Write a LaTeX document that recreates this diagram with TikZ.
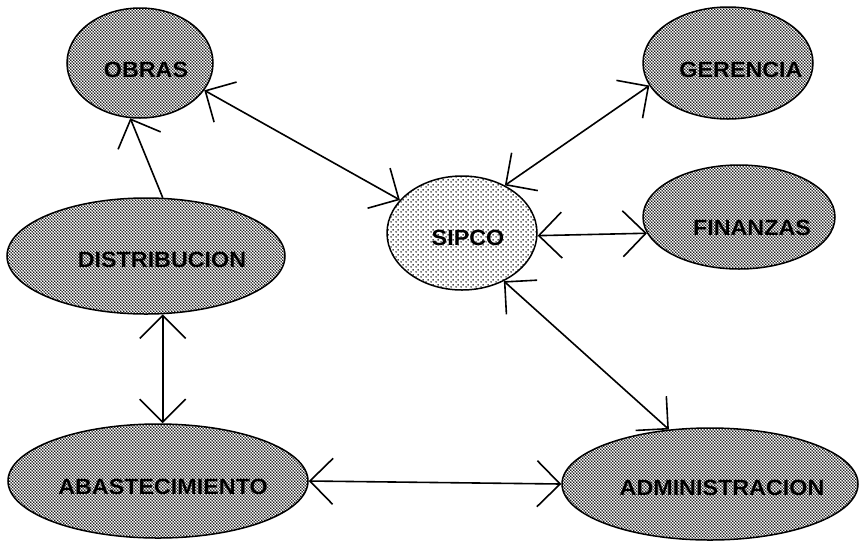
\documentclass[tikz,border=0pt]{standalone}
\usepackage{fontspec}
\setmainfont{Liberation Sans}
\newfontfamily\lblfont[FakeStretch=1.06]{Liberation Sans}
\usetikzlibrary{shapes.geometric,arrows.meta,patterns.meta}

% dense checkerboard of dots for the outer units
\tikzdeclarepattern{
  name=densedots,
  type=uncolored,
  bounding box={(0pt,0pt) and (3.4pt,3.4pt)},
  tile size={(3.4pt,3.4pt)},
  code={
    \fill (0.85pt,0.85pt) circle (1.0pt);
    \fill (2.55pt,2.55pt) circle (1.0pt);
  }
}
% lighter dot screen for the central system
\tikzdeclarepattern{
  name=lightdots,
  type=uncolored,
  bounding box={(0pt,0pt) and (5pt,5pt)},
  tile size={(5pt,5pt)},
  code={
    \fill (1.25pt,1.25pt) circle (0.95pt);
    \fill (3.75pt,3.75pt) circle (0.95pt);
  }
}

\tikzset{
  barb/.tip={Straight Barb[length=23pt,width=46pt,line width=1.6pt]},
  unit/.style={ellipse, draw=black, line width=1.5pt, inner sep=0pt,
               pattern=densedots, pattern color=black},
  core/.style={ellipse, draw=black, line width=1.5pt, inner sep=0pt,
               pattern=lightdots, pattern color=black},
  lbl/.style={font=\lblfont\fontsize{22}{24}\selectfont\bfseries, inner sep=0pt},
  link/.style={line width=1.6pt, barb-barb},
  onelink/.style={line width=1.6pt, -barb}
}

\begin{document}
\begin{tikzpicture}[x=1pt,y=-1pt]
  \useasboundingbox (0,0) rectangle (861,542);

  % units
  \node[unit, minimum width=146pt, minimum height=110pt] (obras) at (140,63) {};
  \node[unit, minimum width=170pt, minimum height=112pt] (gerencia) at (728,63) {};
  \node[unit, minimum width=192pt, minimum height=104pt] (finanzas) at (739,217) {};
  \node[core, minimum width=150pt, minimum height=114pt] (sipco) at (462,233) {};
  \node[unit, minimum width=278pt, minimum height=116pt] (distribucion) at (146,256) {};
  \node[unit, minimum width=300pt, minimum height=114pt] (abastecimiento) at (158,481) {};
  \node[unit, minimum width=296pt, minimum height=112pt] (administracion) at (710,484) {};

  % labels
  \node[lbl] (tobras) at (146,70) {OBRAS};
  \node[lbl] (tgerencia) at (741,70) {GERENCIA};
  \node[lbl] (tfinanzas) at (752,228) {FINANZAS};
  \node[lbl] (tsipco) at (468,238) {SIPCO};
  \node[lbl] (tdistribucion) at (162,260) {DISTRIBUCION};
  \node[lbl] (tabastecimiento) at (163,487) {ABASTECIMIENTO};
  \node[lbl] (tadministracion) at (722,488) {ADMINISTRACION};

  % connectors
  \draw[link] (obras.-23) -- (sipco.152);
  \draw[link] (sipco.48) -- (gerencia.-164);
  \draw[link] (sipco.-2) -- (finanzas.190);
  \draw[link] (sipco.-49) -- (administracion.127);
  \draw[link] (abastecimiento.0) -- (administracion.180);
  \draw[link] (distribucion.-74) -- (distribucion.-74 |- abastecimiento.north);
  \draw[onelink] (distribucion.74) -- (obras.-100);
\end{tikzpicture}
\end{document}
